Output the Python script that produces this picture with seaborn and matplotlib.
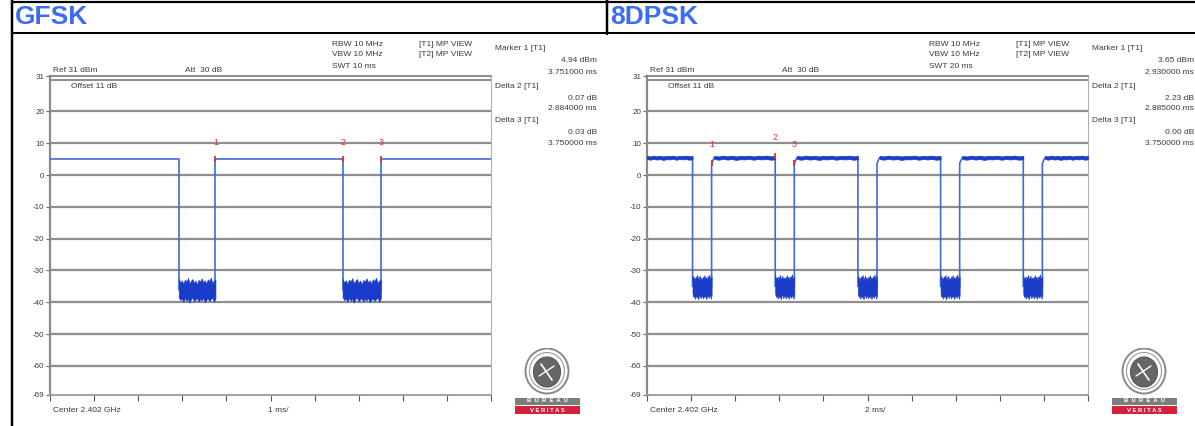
import numpy as np
import pandas as pd
import matplotlib
matplotlib.use("Agg")
import matplotlib.pyplot as plt
from matplotlib.lines import Line2D
from matplotlib.patches import Ellipse, Rectangle
import seaborn as sns

sns.set_theme(style="white")
plt.rcParams['font.family'] = ['Liberation Sans', 'DejaVu Sans']

W, H = 1195, 426

# ---------------- data ----------------
titles = ["GFSK", "8DPSK"]
sweep_ms = [10, 20]
div_labels = ["1 ms/", "2 ms/"]
swt_labels = ["SWT 10 ms", "SWT 20 ms"]

y_ticks = [-69, -60, -50, -40, -30, -20, -10, 0, 10, 20, 31]
y_tick_labels = ["-69", "-60", "-50", "-40", "-30", "-20", "-10", "0", "10", "20", "31"]

# GFSK burst edges (ms) and levels (dB)
gfsk_fall = [2.92, 6.635]
gfsk_rise = [3.751, 7.501]
gfsk_high = 4.94
gfsk_floor = -36.0

# 8DPSK burst edges (ms) and levels (dB)
dpsk_fall = [2.065, 5.815, 9.565, 13.315, 17.065]
dpsk_rise = [2.93, 6.68, 10.43, 14.18, 17.93]
dpsk_high = 5.5
dpsk_step = 3.65
dpsk_floor = -35.0

# ragged noise envelope of the off-time floor (dB around the floor level)
floor_top = [3.4, 2.1, 2.9, 1.7, 3.1, 2.4, 3.6, 1.9, 2.7, 3.3, 2.0, 2.8, 1.6,
             3.0, 2.5, 3.5, 2.2, 2.9, 1.8, 3.2, 2.6, 3.7, 2.0, 2.8, 3.1]
floor_bot = [-2.4, -3.3, -2.8, -3.9, -2.6, -3.5, -2.9, -4.1, -3.0, -2.5, -3.7, -3.1, -2.7,
             -3.8, -2.9, -3.4, -2.6, -4.0, -3.2, -2.8, -3.6, -3.0, -2.5, -3.9, -2.8]
# ripple of the 8DPSK on-level
on_top = [0.5, 0.3, 0.6, 0.35, 0.55, 0.3, 0.5, 0.4, 0.6, 0.3, 0.5, 0.45, 0.6, 0.35, 0.5]
on_bot = [-0.5, -0.7, -0.45, -0.65, -0.5, -0.75, -0.55, -0.6, -0.45, -0.7, -0.5, -0.6,
          -0.5, -0.7, -0.55]

# marker read-outs
gfsk_m1 = (3.751, 4.94)
gfsk_d2 = (2.884, 0.07)
gfsk_d3 = (3.750, 0.03)
dpsk_m1 = (2.930, 3.65)
dpsk_d2 = (2.885, 2.23)
dpsk_d3 = (3.750, 0.00)

LINE = "#4169dc"
NOISE = "#1a3cc8"
TXT = "#3a3a3a"


def fx(px):
    return px / W


def fy(py):
    return 1 - py / H


def build_trace(falls, rises, high, floor, span, step=None):
    t, v = [0.0], [high]
    for f, r in zip(falls, rises):
        t += [f, f, r, r]
        v += [high, floor, floor, -26]
        if step is None:
            t += [r]
            v += [high]
        else:
            t += [r, r + 0.12]
            v += [step, high]
    t.append(span)
    v.append(high)
    return pd.DataFrame({"t": t, "v": v})


def draw_panel(ax, falls, rises, high, floor, span, step=None, ripple=False):
    df = build_trace(falls, rises, high, floor, span, step)
    # off-time floors
    for f, r in zip(falls, rises):
        xs = np.linspace(f, r, len(floor_top))
        ax.fill_between(xs, floor + np.array(floor_bot), floor + np.array(floor_top),
                        color=NOISE, lw=0.5, zorder=5)
    # on-level ripple
    if ripple:
        starts = [0.0] + [r + 0.12 for r in rises]
        ends = list(falls) + [span]
        for s, e in zip(starts, ends):
            xs = np.linspace(s, e, len(on_top))
            ax.fill_between(xs, high + np.array(on_bot), high + np.array(on_top),
                            color=NOISE, lw=0.5, zorder=5)
    sns.lineplot(data=df, x="t", y="v", sort=False, estimator=None, ax=ax,
                 color=LINE, lw=1.2, zorder=4)
    ax.set_xlim(0, span)
    ax.set_ylim(-69, 31)
    ax.set_xlabel("")
    ax.set_ylabel("")
    for y in range(-60, 21, 10):
        ax.axhline(y, color="#8e8e8e", lw=1.6, zorder=1)
    ax.axhline(30.0, color="#7a7a7a", lw=1.2, zorder=1)
    ax.set_yticks(y_ticks)
    ax.set_yticklabels(y_tick_labels)
    ax.set_xticks(np.linspace(0, span, 11))
    ax.tick_params(axis="y", length=3, width=0.8, color="#666", labelsize=5.8,
                   labelcolor=TXT, pad=1, left=True)
    ax.tick_params(axis="x", direction="out", length=4, width=0.8, color="#555",
                   labelbottom=False, bottom=True)
    for side, c, w in [("left", "#8a8a8a", 1.6), ("bottom", "#9a9a9a", 1.3),
                       ("top", "#7a7a7a", 1.2), ("right", "#b0b0b0", 0.8)]:
        ax.spines[side].set_color(c)
        ax.spines[side].set_linewidth(w)
        ax.spines[side].set_visible(True)


def draw_markers(ax, pts, label_dy):
    xs = [p[0] for p in pts]
    ys = [p[1] for p in pts]
    ax.plot(xs, ys, ls="none", marker="|", ms=5, mew=1.3, color="#e8302a", zorder=6)
    for i, (x, y) in enumerate(pts):
        ax.text(x, y + label_dy, str(i + 1), color="#e8302a", fontsize=6.5,
                ha="center", va="center", zorder=6)


def draw_logo(fig, cx):
    lax = fig.add_axes([fx(cx - 34), fy(418), fx(68), 70 / H])
    lax.set_xlim(cx - 34, cx + 34)
    lax.set_ylim(418, 348)
    lax.axis("off")
    lax.add_patch(Ellipse((cx, 371), 43, 45, fc="white", ec="#8a8a8a", lw=1.4))
    lax.add_patch(Ellipse((cx, 371), 35, 37, fc="none", ec="#9a9a9a", lw=0.8))
    lax.add_patch(Ellipse((cx, 372), 27, 30, fc="#666666", ec="#555555", lw=0.8))
    lax.plot([cx - 6, cx + 5], [364, 380], color="white", lw=1.2)
    lax.plot([cx - 8, cx + 7], [376, 366], color="white", lw=1.0)
    lax.add_patch(Rectangle((cx - 32, 397.5), 65, 7, fc="#7d7d7d", ec="none"))
    lax.add_patch(Rectangle((cx - 32, 406), 65, 8, fc="#d4213c", ec="none"))
    lax.text(cx, 401, "B  U  R  E  A  U", color="white", fontsize=4.2,
             ha="center", va="center", fontweight="bold")
    lax.text(cx, 410, "V E R I T A S", color="white", fontsize=4.2,
             ha="center", va="center", fontweight="bold")


fig = plt.figure(figsize=(W / 100, H / 100), dpi=100)
fig.patch.set_facecolor("white")

panels = [
    dict(x0=50, falls=gfsk_fall, rises=gfsk_rise, high=gfsk_high, floor=gfsk_floor,
         step=None, ripple=False, m1=gfsk_m1, d2=gfsk_d2, d3=gfsk_d3, label_dy=5.2),
    dict(x0=647, falls=dpsk_fall, rises=dpsk_rise, high=dpsk_high, floor=dpsk_floor,
         step=dpsk_step, ripple=True, m1=dpsk_m1, d2=dpsk_d2, d3=dpsk_d3, label_dy=6.0),
]

for k, p in enumerate(panels):
    x0 = p["x0"]
    ax = fig.add_axes([fx(x0), fy(394.5), fx(441), (394.5 - 76.4) / H])
    ax.set_facecolor("white")
    span = sweep_ms[k]
    draw_panel(ax, p["falls"], p["rises"], p["high"], p["floor"], span,
               p["step"], p["ripple"])
    m1t, m1v = p["m1"]
    pts = [(m1t, m1v), (m1t + p["d2"][0], m1v + p["d2"][1]),
           (m1t + p["d3"][0], m1v + p["d3"][1])]
    draw_markers(ax, pts, p["label_dy"])

    s = dict(fontsize=6.0, color=TXT, va="center")
    dx = x0 - 50
    fig.text(fx(53 + dx), fy(70), "Ref 31 dBm", **s)
    fig.text(fx(185 + dx), fy(70), "Att  30 dB", **s)
    fig.text(fx(71 + dx), fy(86), "Offset 11 dB", **s)
    fig.text(fx(332 + dx), fy(44), "RBW 10 MHz", **s)
    fig.text(fx(332 + dx), fy(55), "VBW 10 MHz", **s)
    fig.text(fx(332 + dx), fy(66), swt_labels[k], **s)
    fig.text(fx(419 + dx), fy(44), "[T1] MP VIEW", **s)
    fig.text(fx(419 + dx), fy(55), "[T2] MP VIEW", **s)
    fig.text(fx(53 + dx), fy(410), "Center 2.402 GHz", **s)
    fig.text(fx(268 + dx), fy(410), div_labels[k], **s)

    xr = 597 + dx
    xl = 495 + dx
    rows = [
        (xl, 49, "Marker 1 [T1]", "left"),
        (xr, 60, f"{m1v:.2f} dBm", "right"),
        (xr, 72, f"{m1t:.6f} ms", "right"),
        (xl, 86, "Delta 2 [T1]", "left"),
        (xr, 98, f"{p['d2'][1]:.2f} dB", "right"),
        (xr, 109, f"{p['d2'][0]:.6f} ms", "right"),
        (xl, 121, "Delta 3 [T1]", "left"),
        (xr, 132, f"{p['d3'][1]:.2f} dB", "right"),
        (xr, 143, f"{p['d3'][0]:.6f} ms", "right"),
    ]
    for x, y, txt, ha in rows:
        fig.text(fx(x), fy(y), txt, ha=ha, **s)

    draw_logo(fig, 547 + dx)

# header row of the table
fig.text(fx(15), fy(17), titles[0], fontsize=19, fontweight="bold",
         color="#3b6cf2", va="center")
fig.text(fx(610), fy(17), titles[1], fontsize=19, fontweight="bold",
         color="#3b6cf2", va="center")
for (xa, ya, xb, yb, w) in [(11.5, 1.5, W, 1.5, 2.2), (11.5, 33, W, 33, 2.0),
                            (11.5, 0, 11.5, H, 2.5), (606.5, 0, 606.5, 34, 2.5)]:
    fig.add_artist(Line2D([fx(xa), fx(xb)], [fy(ya), fy(yb)], color="black",
                          lw=w * 0.72, transform=fig.transFigure))

fig.savefig("out.png", dpi=100, facecolor="white")
